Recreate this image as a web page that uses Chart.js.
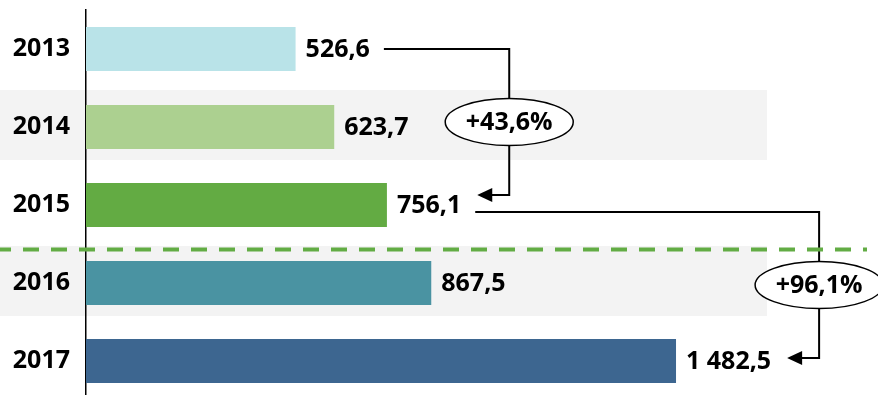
<!DOCTYPE html>
<html lang="ru">

<head>
    <meta charset="UTF-8">
    <title>Рост по годам</title>
    <script src="https://cdn.jsdelivr.net/npm/chart.js"></script>
    <style>
        body { margin: 0; overflow: hidden; background: #fff; }
        #wrap { width: 878px; height: 400px; }
    </style>
</head>

<body>
    <div id="wrap">
        <canvas id="canvasAnos" width="878" height="400"></canvas>
    </div>

<script>
    // data
    const years = ['2013', '2014', '2015', '2016', '2017'];
    const values = [526.6, 623.7, 756.1, 867.5, 1482.5];
    const barColors = ['#b9e3e8', '#acd090', '#63ab43', '#4a93a2', '#3d6690'];
    const shadedRows = [1, 3];
    // [from, to, start y shift, end y shift]
    const comparisons = [[0, 2, 0, -10], [2, 4, 7, -3]];
    const splitAfter = 2;

    const FONT = 'bold 25px "Open Sans"';

    // 1482.5 -> "1 482,5"
    function fmtNum(v) {
        const parts = v.toFixed(1).split('.');
        const int = parts[0].replace(/\B(?=(\d{3})+(?!\d))/g, ' ');
        return int + ',' + parts[1];
    }

    function fmtPct(a, b) {
        return '+' + ((b / a - 1) * 100).toFixed(1).replace('.', ',') + '%';
    }

    // gray stripes behind some rows
    const bandsPlugin = {
        id: 'bands',
        beforeDraw(chart) {
            const ctx = chart.ctx;
            const bars = chart.getDatasetMeta(0).data;
            ctx.save();
            ctx.fillStyle = '#f3f3f3';
            shadedRows.forEach(i => {
                const y = bars[i].y - 2;
                ctx.fillRect(0, y - 35, 767, 70);
            });
            ctx.restore();
        }
    };

    // value labels, arrows with growth ellipses, dashed split line
    const annotPlugin = {
        id: 'annot',
        afterDraw(chart) {
            const ctx = chart.ctx;
            const bars = chart.getDatasetMeta(0).data;
            const ends = [];

            ctx.save();
            ctx.font = FONT;
            ctx.fillStyle = '#000';
            ctx.textBaseline = 'middle';
            ctx.textAlign = 'left';
            bars.forEach((bar, i) => {
                const txt = fmtNum(values[i]);
                const x = bar.x + 10;
                ctx.fillText(txt, x, bar.y + 1);
                ends.push(x + ctx.measureText(txt).width);
            });

            comparisons.forEach(c => {
                const [a, b, dy0, dy1] = c;
                const y0 = bars[a].y + dy0;
                const y1 = bars[b].y + dy1;
                const xv = Math.max(...ends.slice(a, b + 1)) + 48;
                const xs = ends[a] + 14;
                const xt = ends[b] + 16;

                ctx.strokeStyle = '#000';
                ctx.lineWidth = 2;
                ctx.beginPath();
                ctx.moveTo(xs, y0);
                ctx.lineTo(xv, y0);
                ctx.lineTo(xv, y1);
                ctx.lineTo(xt + 12, y1);
                ctx.stroke();

                ctx.beginPath();
                ctx.moveTo(xt, y1);
                ctx.lineTo(xt + 15, y1 - 7);
                ctx.lineTo(xt + 15, y1 + 7);
                ctx.closePath();
                ctx.fill();

                const ym = (y0 + y1) / 2;
                ctx.beginPath();
                ctx.ellipse(xv, ym, 64, 23.5, 0, 0, Math.PI * 2);
                ctx.fillStyle = '#fff';
                ctx.fill();
                ctx.lineWidth = 1.5;
                ctx.stroke();

                ctx.fillStyle = '#000';
                ctx.textAlign = 'center';
                ctx.fillText(fmtPct(values[a], values[b]), xv, ym + 1);
                ctx.textAlign = 'left';
            });

            const yd = (bars[splitAfter].y + bars[splitAfter + 1].y) / 2 + 5.5;
            ctx.strokeStyle = '#62ac44';
            ctx.lineWidth = 4;
            ctx.setLineDash([16, 12]);
            ctx.lineDashOffset = 5;
            ctx.beginPath();
            ctx.moveTo(0, yd);
            ctx.lineTo(867, yd);
            ctx.stroke();
            ctx.restore();
        }
    };

    const config = {
        type: 'bar',
        data: {
            labels: years,
            datasets: [{
                data: values,
                backgroundColor: barColors,
                categoryPercentage: 1,
                barPercentage: 0.565
            }]
        },
        plugins: [bandsPlugin, annotPlugin],
        options: {
            indexAxis: 'y',
            responsive: false,
            animation: false,
            devicePixelRatio: 1,
            layout: {
                padding: { top: 10, left: 0, right: 0, bottom: 0 }
            },
            plugins: {
                legend: { display: false },
                tooltip: { enabled: false }
            },
            scales: {
                x: {
                    display: false,
                    min: 0,
                    max: 1990
                },
                y: {
                    // fixed axis width, no extra vertical padding from labels
                    afterFit(scale) {
                        scale.width = 86;
                        scale.paddingTop = 0;
                        scale.paddingBottom = 0;
                    },
                    grid: {
                        display: true,
                        color: 'rgba(0,0,0,0)',
                        drawTicks: false
                    },
                    border: {
                        display: true,
                        color: '#000',
                        width: 1.5
                    },
                    ticks: {
                        color: '#000',
                        padding: 16,
                        font: {
                            family: 'Open Sans',
                            size: 25,
                            weight: 'bold'
                        }
                    }
                }
            }
        }
    };

    const chartAnos = new Chart(document.getElementById('canvasAnos'), config);
</script>
</body>

</html>
